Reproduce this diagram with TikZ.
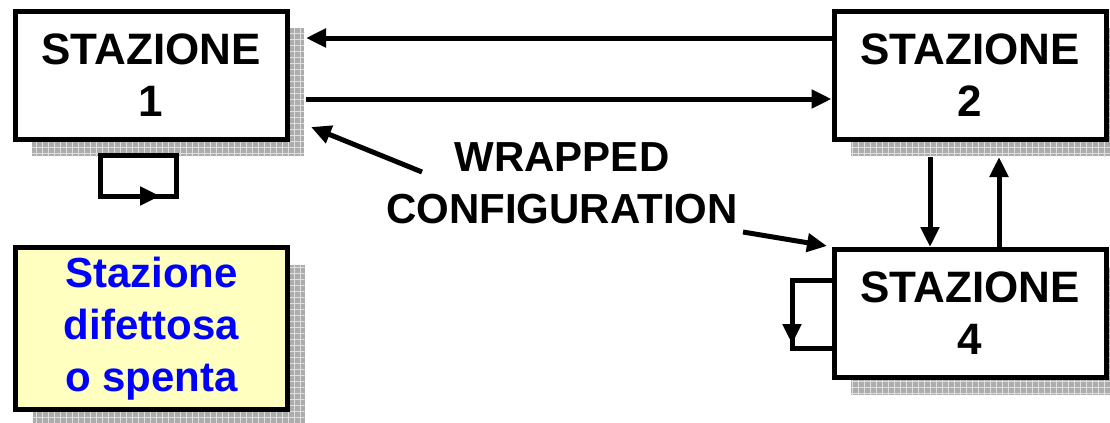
\documentclass[tikz,border=0pt]{standalone}
\usepackage{fontspec}
\setmainfont{Liberation Sans}
\usetikzlibrary{shadows,patterns,arrows.meta}
\definecolor{paleyellow}{RGB}{255,255,192}
\begin{document}
\begin{tikzpicture}[x=0.5pt,y=-0.5pt,
  gridshadow/.style={
    drop shadow={shadow xshift=8.5pt,shadow yshift=-8.5pt,opacity=1,fill=gray!65},
    drop shadow={shadow xshift=8.5pt,shadow yshift=-8.5pt,opacity=1,
      pattern=grid,pattern color=gray!25}},
  station/.style={draw,line width=2.5pt,fill=white,gridshadow,
      minimum width=136pt,minimum height=64pt,inner sep=0pt,
      align=center,font=\fontsize{22}{26}\selectfont\bfseries},
  faulty/.style={station,fill=paleyellow,text=blue,minimum height=81pt,
      font=\fontsize{21}{26}\selectfont\bfseries},
  link/.style={line width=2.5pt,-{Triangle[length=10pt,width=9pt]}},
  loop/.style={line width=2.5pt}]
  \useasboundingbox (0,0) rectangle (1110,423);
  \node[station] (s1) at (151,75) {STAZIONE\\1};
  \node[station] (s2) at (970,75) {STAZIONE\\2};
  \node[station] (s4) at (970,313.5) {STAZIONE\\4};
  \node[faulty] (s3) at (151.5,328.5) {Stazione\\difettosa\\o spenta};
  \node[align=center,font=\fontsize{21}{26}\selectfont\bfseries] (wrap) at (562,183)
    {WRAPPED\\CONFIGURATION};
  % ring between 1 and 2
  \draw[link] (s2.west |- 0,38) -- (306,38);
  \draw[link] (306,99) -- (s2.west |- 0,99);
  % ring between 2 and 4
  \draw[link] (930,157) -- (s4.north -| 930,0);
  \draw[link] (s4.north -| 999,0) -- (999,157);
  % wrapped loops
  \coordinate (l1) at (100,155);
  \coordinate (l2) at (176,196);
  \draw[loop] (l1) rectangle (l2);
  \draw[link] (l1 |- l2) -- (160,196);
  \coordinate (l3) at (792,280);
  \coordinate (l4) at (792,348);
  \draw[loop] (s4.west |- l3) -- (l3) -- (l4) -- (s4.west |- l4);
  \draw[link] (l3) -- (792,344);
  % labels
  \draw[link] (422,172) -- (311,127);
  \draw[link] (743,232) -- (827,246);
\end{tikzpicture}
\end{document}
